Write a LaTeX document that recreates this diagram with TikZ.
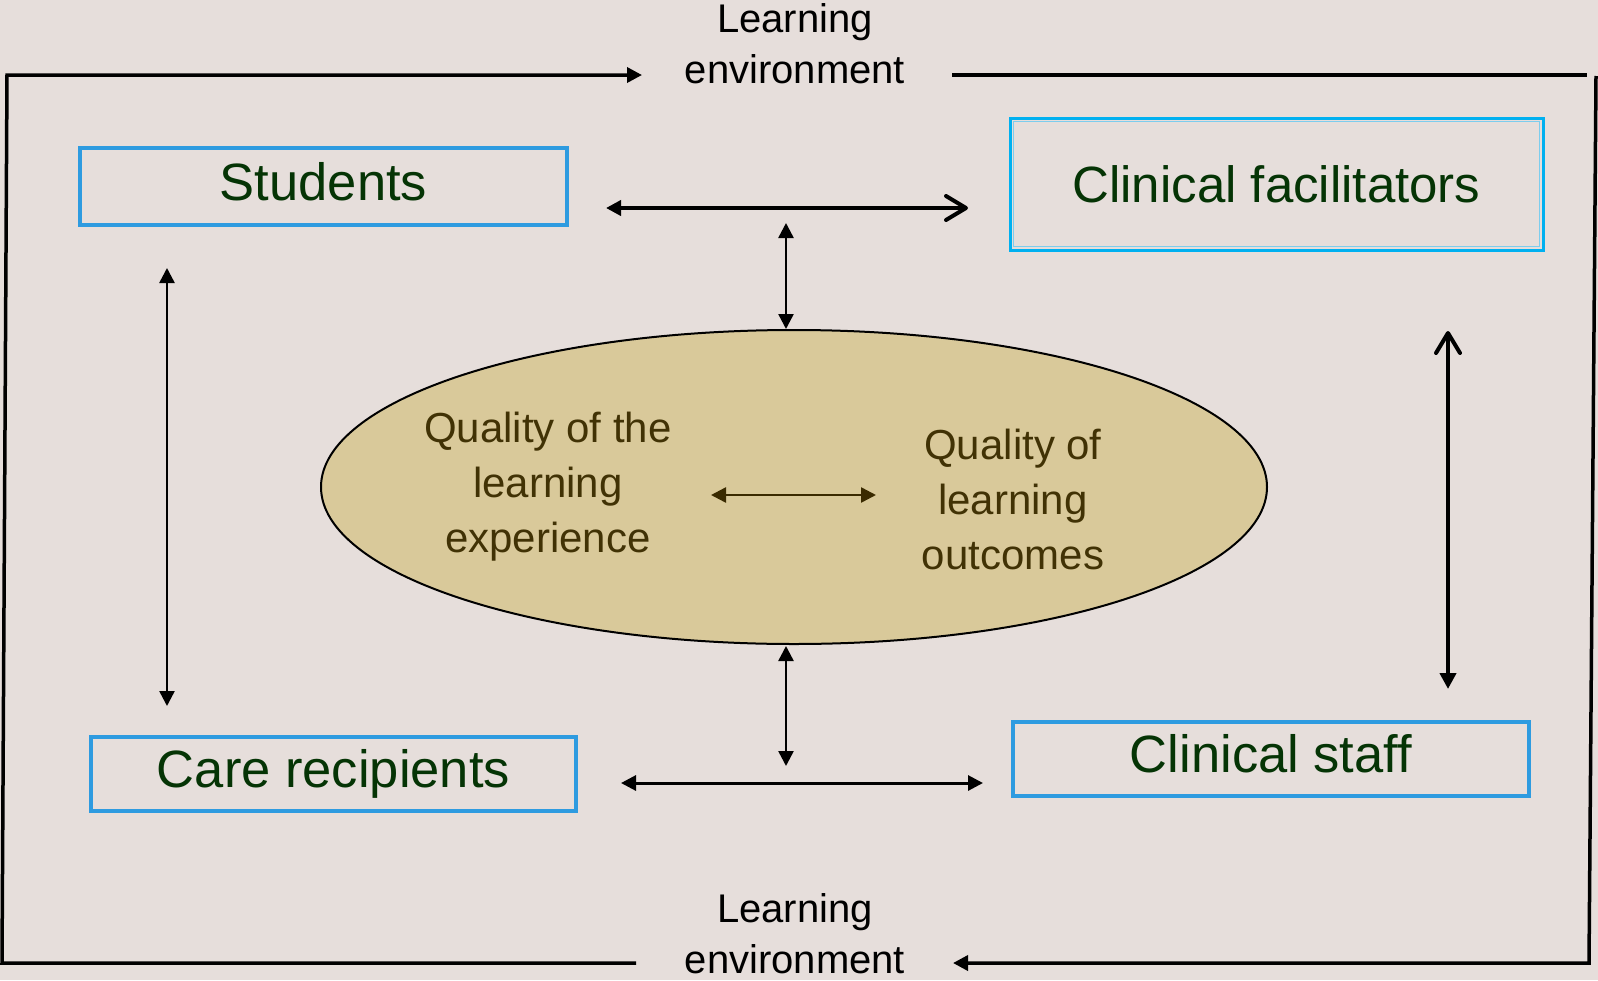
\documentclass[tikz,border=0pt]{standalone}
\usepackage{fontspec}
\setmainfont{Liberation Sans}
\usetikzlibrary{arrows.meta,shapes.geometric}
\definecolor{bg}{RGB}{230,222,219}
\definecolor{boxblue}{RGB}{46,155,224}
\definecolor{cfblue}{RGB}{0,176,240}
\definecolor{cfinner}{RGB}{125,205,238}
\definecolor{txtgreen}{RGB}{5,52,5}
\definecolor{ellfill}{RGB}{217,201,154}
\definecolor{innertxt}{RGB}{65,50,5}
\definecolor{innerarrow}{RGB}{58,42,0}
\tikzset{
  agent/.style={draw=boxblue, line width=3.5pt, text=txtgreen, inner sep=0pt,
    font=\fontsize{52.5}{60}\selectfont, text height=38pt, text depth=11pt},
  frame/.style={line width=3.5pt, black, line join=miter},
  envtext/.style={align=center, font=\fontsize{40}{51}\selectfont, inner sep=0pt},
  innertext/.style={align=center, text=innertxt, font=\fontsize{42}{55}\selectfont, inner sep=0pt},
  tri/.tip={Triangle[length=15pt,width=15pt]},
  barb/.tip={Straight Barb[length=20pt,width=24pt,round]},
  thinlink/.style={line width=2.5pt, {tri}-{tri}},
}
\begin{document}
\begin{tikzpicture}[x=1pt,y=-1pt]
\fill[bg] (0,0) rectangle (1598,980);
\useasboundingbox (0,0) rectangle (1598,980);

% frame coordinates
\coordinate (fTL) at (7,75);
\coordinate (fTA) at (642,75);
\coordinate (fTB) at (952,75);
\coordinate (fTR) at (1587,75);
\coordinate (fRT) at (1596,76);
\coordinate (fRB) at (1589,963);
\coordinate (fBA) at (953,963);
\coordinate (fBB) at (636,963);
\coordinate (fBL) at (2,963);

\draw[frame, -{Triangle[length=15pt,width=15pt]}] (fBB) -- (fBL) -- (fTL) -- (fTA);
\draw[frame] (fTB) -- (fTR);
\draw[frame, -{Triangle[length=15pt,width=15pt]}] (fRT) -- (fRB) -- (fBA);

\node[envtext] (envtop) at (795,44) {Learning\\environment};
\node[envtext] (envbot) at (795,934) {Learning\\environment};

% boxes
\node[agent, minimum width=487pt, minimum height=77pt] (stu) at (323.5,186.5) {Students};
\node[agent, minimum width=485pt, minimum height=74pt] (care) at (333.5,774) {Care recipients};
\node[agent, minimum width=516pt, minimum height=74pt] (staff) at (1271,759) {Clinical staff};
\node[agent, draw=cfblue, line width=3pt, minimum width=533pt, minimum height=132pt, font=\fontsize{51}{60}\selectfont, text depth=1pt] (fac) at (1276.5,184) {Clinical facilitators};
\draw[cfinner, line width=1.5pt] ([shift={(5,5)}]fac.north west) rectangle ([shift={(-5,-5)}]fac.south east);

% ellipse
\node[ellipse, draw=black, line width=2pt, fill=ellfill, minimum width=946pt, minimum height=314pt, inner sep=0pt] (q) at (794,487) {};
\node[innertext] (qexp) at (548,487) {Quality of the\\learning\\experience};
\node[innertext] (qout) at (1013,499) {Quality of\\learning\\outcomes};

% connector coordinates
\coordinate (thL) at (606,208);
\coordinate (thR) at (968,208);
\coordinate (tvT) at (786,223);
\coordinate (tvB) at (786,329);
\coordinate (bvT) at (786,646);
\coordinate (bvB) at (786,766);
\coordinate (bhL) at (621,783);
\coordinate (bhR) at (983,783);
\coordinate (lvT) at (167,268);
\coordinate (lvB) at (167,706);
\coordinate (rvT) at (1448,331);
\coordinate (rvB) at (1448,689);
\coordinate (ihL) at (711,495);
\coordinate (ihR) at (876,495);

\draw[line width=4pt, {tri}-{barb}] (thL) -- (thR);
\draw[thinlink] (tvT) -- (tvB);
\draw[thinlink] (bvT) -- (bvB);
\draw[line width=3pt, {tri}-{tri}] (bhL) -- (bhR);
\draw[thinlink] (lvT) -- (lvB);
\draw[line width=4pt, {barb}-{Triangle[length=16pt,width=16pt]}] (rvT) -- (rvB);
\draw[line width=2.5pt, innerarrow, {tri}-{tri}] (ihL) -- (ihR);
\end{tikzpicture}
\end{document}
